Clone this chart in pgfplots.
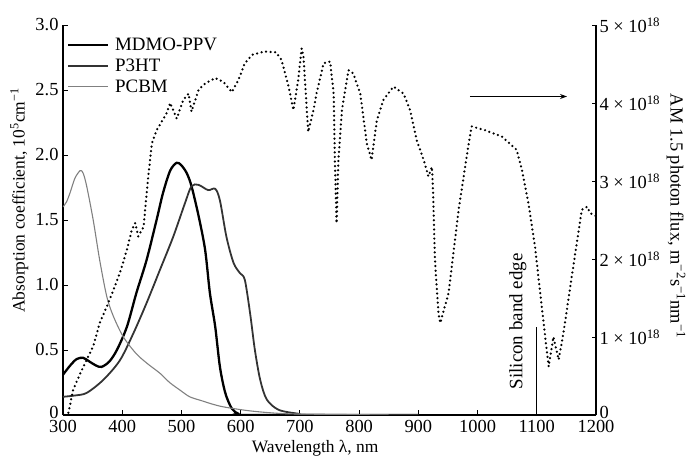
\documentclass[border=0pt]{standalone}
\usepackage{pgfplots}
\pgfplotsset{compat=1.18}
\usepackage{fontspec}
\setmainfont{Liberation Serif}
\usetikzlibrary{arrows.meta}
\begin{document}
\begin{tikzpicture}
\path[use as bounding box] (0,0) rectangle (686bp,459bp);
\pgfplotsset{
  common/.style={
    at={(63bp,44bp)}, anchor=south west, scale only axis,
    width=533bp, height=390bp,
    xmin=300, xmax=1200,
    axis line style={-, line width=1.1pt},
    tick align=inside, major tick length=4.5bp,
    tick style={black, line width=0.8pt},
    ticklabel style={font=\fontsize{18.5}{18.5}\selectfont},
    label style={font=\fontsize{17.5}{18}\selectfont},
  }
}
\begin{axis}[common,
  ymin=0, ymax=3,
  axis x line*=bottom, axis y line*=left,
  xtick={300,400,500,600,700,800,900,1000,1100,1200},
  xticklabels={300,400,500,600,700,800,900,1000,1100,1200},
  xticklabel style={yshift=-2bp},
  ytick={0,0.5,1,1.5,2,2.5,3},
  yticklabels={\raisebox{4.5bp}{0},0.5,1.0,1.5,2.0,2.5,3.0},
  yticklabel style={xshift=-1bp},
  xlabel={Wavelength λ, nm},
  xlabel style={at={(axis description cs:0.473,-0.086)}, anchor=center},
  ylabel={Absorption coefficient, 10\textsuperscript{5}cm\textsuperscript{−1}},
  ylabel style={at={(axis description cs:-0.082,0.55)}, anchor=center},
  legend style={draw=none, fill=none, at={(0.005,0.975)}, anchor=north west,
    font=\fontsize{19}{21}\selectfont, row sep=3pt, column sep=4bp, inner sep=1pt},
  legend cell align=left,
  legend image code/.code={\draw[#1] (0bp,0bp) -- (40bp,0bp);},
]
\addplot[black, line width=2.3pt, smooth] coordinates {
(300,0.31) (312,0.38) (323,0.43) (334,0.44) (345,0.41) (356,0.38) (365,0.37)
(378,0.41) (391,0.50) (408,0.68) (424,0.94) (441,1.19) (458,1.50) (469,1.71)
(481,1.88) (492,1.94) (500,1.92) (509,1.86) (517,1.76) (529,1.53) (540,1.27)
(548,0.94) (557,0.68) (565,0.37) (574,0.17) (585,0.05) (596,0.01) (610,0.0) (900,0.0)
};
\addlegendentry{MDMO-PPV}
\addplot[black!80, line width=1.8pt, smooth] coordinates {
(300,0.14) (320,0.15) (340,0.17) (368,0.27) (396,0.42) (419,0.63) (441,0.86)
(464,1.12) (486,1.37) (506,1.63) (517,1.76) (529,1.77) (545,1.73) (557,1.74)
(565,1.65) (576,1.37) (588,1.17) (599,1.09) (607,1.04) (616,0.78) (624,0.50)
(633,0.27) (644,0.12) (664,0.04) (697,0.01) (720,0.0) (900,0.0)
};
\addlegendentry{P3HT}
\addplot[black!50, line width=1.1pt, smooth] coordinates {
(300,1.60) (306,1.64) (312,1.71) (320,1.82) (329,1.88) (334,1.86) (340,1.76)
(351,1.50) (362,1.19) (374,0.91) (385,0.76) (402,0.60) (424,0.47) (444,0.39)
(464,0.32) (480,0.25) (498,0.19) (514,0.14) (534,0.11) (555,0.08) (574,0.06)
(619,0.03) (675,0.01) (750,0.005) (850,0.0)
};
\addlegendentry{PCBM}
\draw[-{Stealth[length=7bp,width=5bp]}, line width=0.8pt] (axis cs:987,2.45) -- (axis cs:1151,2.45);
\draw[line width=1pt] (axis cs:1100,0) -- (axis cs:1100,0.68);
\node[rotate=90, font=\fontsize{19}{19}\selectfont] at (axis cs:1068,0.72) {Silicon band edge};
\end{axis}
\begin{axis}[common,
  ymin=0, ymax=5,
  axis x line=none, axis y line*=right,
  ytick={0,1,2,3,4,5},
  yticklabels={\raisebox{4.5bp}{0}, 1 × 10\textsuperscript{18}, 2 × 10\textsuperscript{18}, 3 × 10\textsuperscript{18}, 4 × 10\textsuperscript{18}, 5 × 10\textsuperscript{18}},
  yticklabel style={anchor=west},
  ylabel={AM 1.5 photon flux, m\textsuperscript{−2}s\textsuperscript{−1}nm\textsuperscript{−1}},
  ylabel style={at={(axis description cs:1.150,0.51)}, anchor=center, rotate=180, font=\fontsize{18.5}{19}\selectfont},
]
\addplot[black, line width=2.5pt, line cap=round, dash pattern=on 0pt off 4.6pt] coordinates {
(303,0) (309,0.02) (317,0.32) (329,0.53) (340,0.71) (351,0.88) (362,1.18) (374,1.39)
(385,1.60) (396,1.82) (408,2.12) (416,2.37) (422,2.46) (427,2.29) (436,2.41)
(444,3.06) (450,3.48) (458,3.65) (475,3.87) (481,4.00) (492,3.80) (503,4.04)
(512,4.12) (517,3.89) (529,4.17) (540,4.25) (557,4.32) (571,4.27) (585,4.14)
(596,4.29) (607,4.51) (620,4.62) (640,4.66) (660,4.65) (669,4.55) (681,4.21)
(689,3.91) (697,4.29) (703,4.70) (706,4.60) (714,3.63) (723,3.91) (728,4.12)
(740,4.51) (751,4.53) (757,4.12) (759,3.27) (762,2.46) (765,3.27) (771,3.91)
(782,4.42) (790,4.38) (802,4.12) (813,3.48) (821,3.27) (830,3.78) (841,4.04)
(858,4.21) (875,4.12) (886,3.91) (897,3.53) (909,3.27) (917,3.06) (923,3.18)
(925,2.84) (928,1.99) (934,1.30) (937,1.18) (951,1.56) (968,2.63) (985,3.48)
(990,3.70) (1013,3.65) (1041,3.57) (1066,3.40) (1075,3.14) (1086,2.71)
(1097,2.16) (1109,1.35) (1120,0.62) (1128,1.00) (1137,0.71) (1145,1.05)
(1159,1.77) (1176,2.63) (1185,2.67) (1190,2.59) (1200,2.55)
};
\end{axis}
\end{tikzpicture}
\end{document}
